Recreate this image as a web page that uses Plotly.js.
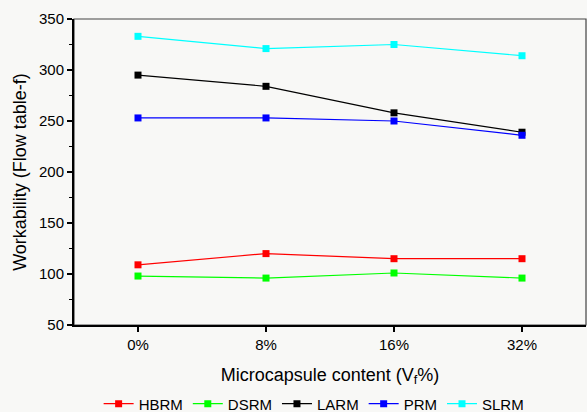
<!DOCTYPE html>
<html>
<head>
<meta charset="utf-8">
<script src="https://cdn.plot.ly/plotly-3.0.1.min.js"></script>
<style>html,body{margin:0;padding:0;background:#f8f8f6;}#chart{width:587px;height:412px;}</style>
</head>
<body>
<div id="chart"></div>
<script>
var categories = ["0%", "8%", "16%", "32%"];
var HBRM = [109, 120, 115, 115];
var DSRM = [98, 96, 101, 96];
var LARM = [295, 284, 258, 239];
var PRM  = [253, 253, 250, 236];
var SLRM = [333, 321, 325, 314];

var seriesNames = ["HBRM", "DSRM", "LARM", "PRM", "SLRM"];
var seriesData = [HBRM, DSRM, LARM, PRM, SLRM];
var seriesColors = ["#ff0000", "#00ff00", "#000000", "#0000ff", "#00ffff"];

var traces = seriesNames.map(function(n, i){
  return {
    x: categories, y: seriesData[i], name: n, type: "scatter", mode: "lines+markers",
    line: {color: seriesColors[i], width: 1.2},
    marker: {symbol: "square", size: 7, color: seriesColors[i]}
  };
});

var layout = {
  width: 587, height: 412,
  paper_bgcolor: "#f8f8f6", plot_bgcolor: "#f8f8f6",
  margin: {l: 74, r: 1, t: 19, b: 87, autoexpand: false},
  font: {family: "Liberation Sans, Arial, sans-serif", size: 15, color: "#000"},
  showlegend: true,
  legend: {orientation: "h", xref: "paper", x: 0.469, xanchor: "center",
           yref: "paper", y: -0.258, yanchor: "middle",
           font: {size: 15}, bgcolor: "rgba(0,0,0,0)"},
  shapes: [{type: "rect", xref: "paper", yref: "paper", x0: 0, x1: 1, y0: 0, y1: 1,
            line: {color: "#444", width: 1.2}, fillcolor: "rgba(0,0,0,0)", layer: "below"}],
  xaxis: {
    type: "category", range: [-0.5, 3.5],
    showline: true, linecolor: "#000", linewidth: 2, mirror: false,
    ticks: "outside", ticklen: 5, tickwidth: 1.2, tickcolor: "#000",
    showgrid: false, zeroline: false,
    minor: {ticks: "outside", ticklen: 3, tickwidth: 1.2, tickcolor: "#000", tick0: 0.5, dtick: 1},
    tickfont: {size: 15},
    title: {text: "Microcapsule content (V<sub>f</sub>%)", font: {size: 18}, standoff: 16}
  },
  yaxis: {
    range: [50, 350], dtick: 50,
    showline: true, linecolor: "#000", linewidth: 2, mirror: false,
    ticks: "outside", ticklen: 5, tickwidth: 1.2, tickcolor: "#000",
    minor: {ticks: "outside", ticklen: 3, tickwidth: 1.2, tickcolor: "#000", dtick: 25},
    showgrid: false, zeroline: false,
    tickfont: {size: 15},
    title: {text: "Workability (Flow table-f)", font: {size: 18}, standoff: 8}
  }
};

Plotly.newPlot("chart", traces, layout, {displayModeBar: false, staticPlot: true});
</script>
</body>
</html>
